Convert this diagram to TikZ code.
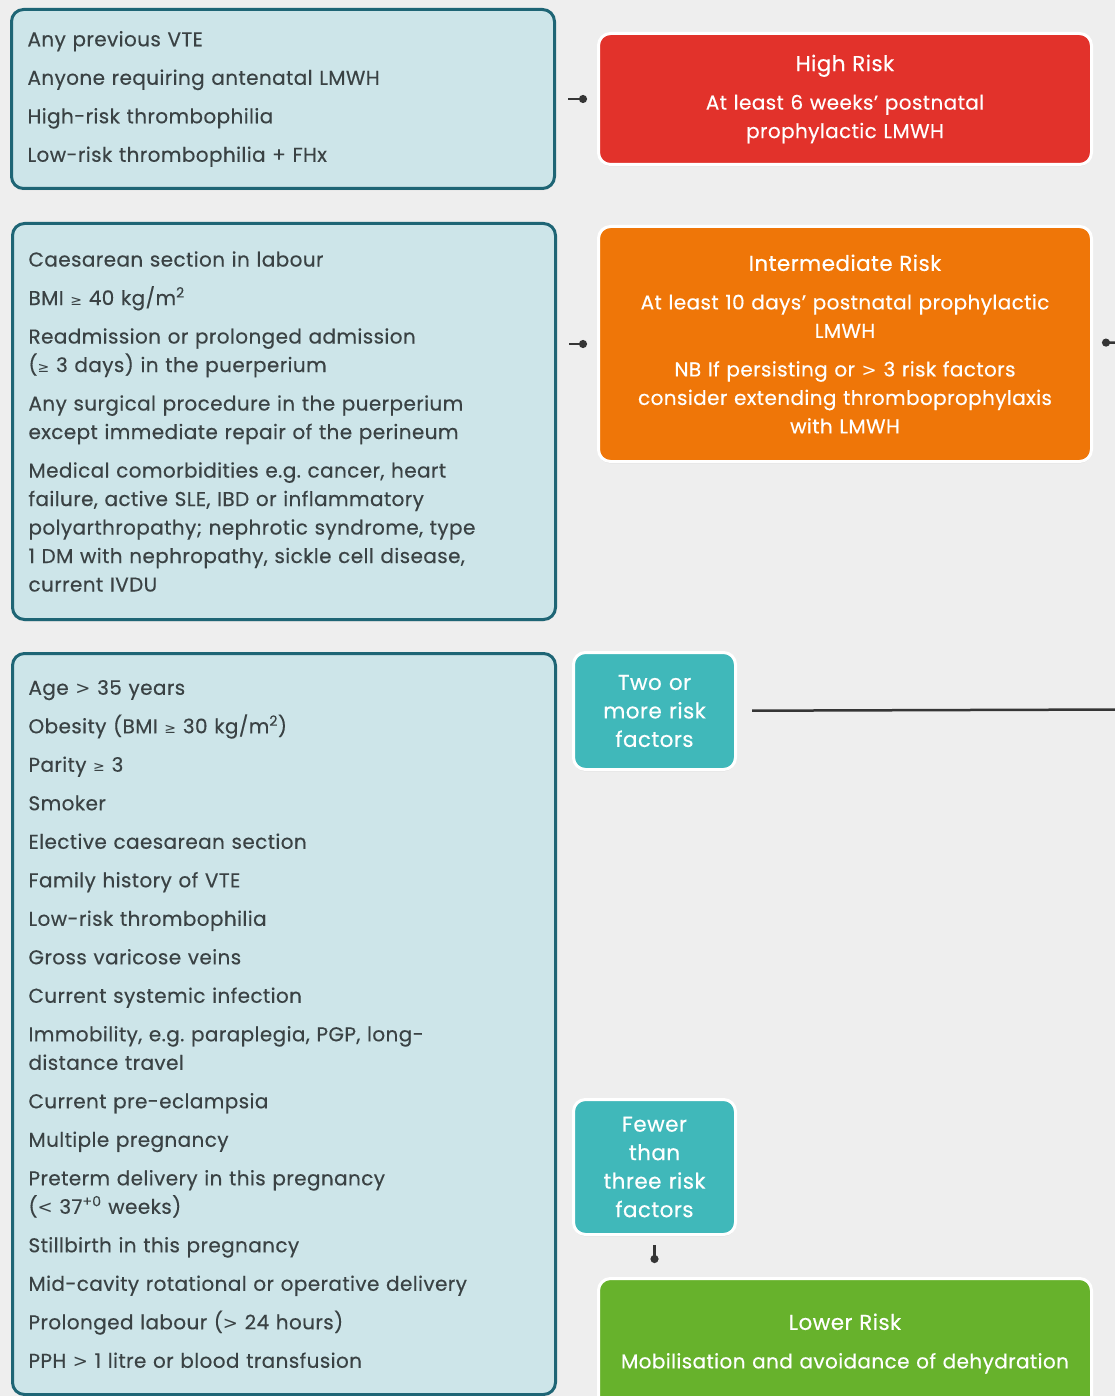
\documentclass[tikz,border=0pt]{standalone}
\usepackage{fontspec}
\setmainfont{Poppins}[FakeBold=0.35, LetterSpace=2]
\newfontfamily\symfont{DejaVu Sans}
\usetikzlibrary{arrows.meta, shadows}
\frenchspacing
\definecolor{pagegray}{HTML}{EEEEEE}
\definecolor{factorfill}{HTML}{CDE5E9}
\definecolor{factorline}{HTML}{1E6575}
\definecolor{inktext}{HTML}{3A4244}
\definecolor{highred}{HTML}{E2322B}
\definecolor{interorange}{HTML}{EF7608}
\definecolor{countteal}{HTML}{40B8BA}
\definecolor{lowgreen}{HTML}{67B22C}
\definecolor{linkgray}{HTML}{353535}
\newcommand{\geqsym}{{\symfont\fontsize{14}{14}\selectfont ≥}}
\newcommand{\gtsym}{{\symfont\fontsize{18}{18}\selectfont >}}
\newcommand{\ltsym}{{\symfont\fontsize{18}{18}\selectfont <}}
\newcommand{\risktitle}[1]{{\fontsize{21.5}{28.5}\selectfont #1}}
\tikzset{
  factors/.style={
    draw=factorline,
    line width=3pt,
    fill=factorfill,
    rounded corners=12pt,
    anchor=north west,
    inner xsep=16pt,
    inner ysep=0pt,
    text width=511pt,
    align=left,
    text=inktext,
    font=\fontsize{20}{28.5}\selectfont,
    drop shadow={shadow xshift=0pt, shadow yshift=-2pt, opacity=0.12}
  },
  risk/.style={
    draw=white,
    line width=3pt,
    rounded corners=12pt,
    anchor=north west,
    inner xsep=12pt,
    inner ysep=0pt,
    text width=469pt,
    align=center,
    text=white,
    font=\fontsize{20}{28.5}\selectfont,
    drop shadow={shadow xshift=0pt, shadow yshift=-2pt, opacity=0.12}
  },
  count/.style={
    draw=white,
    line width=3pt,
    fill=countteal,
    rounded corners=12pt,
    anchor=north west,
    inner xsep=6pt,
    inner ysep=0pt,
    text width=150pt,
    align=center,
    text=white,
    font=\fontsize{21.5}{28.5}\selectfont,
    drop shadow={shadow xshift=0pt, shadow yshift=-2pt, opacity=0.12}
  },
  every edge/.style={
    draw=linkgray,
    line width=2.5pt,
    -{Circle[length=8pt, width=8pt]}
  }
}

\begin{document}
\begin{tikzpicture}[x=1pt, y=-1pt]
  \clip (0,0) rectangle (1115,1396);
  \fill[pagegray] (0,0) rectangle (1115,1396);

  % risk factors
  \node[factors, minimum height=179pt] (prev) at (10,8)
    {Any previous VTE\\[10pt]
     Anyone requiring antenatal LMWH\\[10pt]
     High-risk thrombophilia\\[10pt]
     Low-risk thrombophilia + FHx};
  \node[factors, minimum height=396pt] (labour) at (11,222)
    {Caesarean section in labour\\[10pt]
     BMI \geqsym{} 40 kg/m\textsuperscript{2}\\[10pt]
     Readmission or prolonged admission\\
     (\geqsym{} 3 days) in the puerperium\\[10pt]
     Any surgical procedure in the puerperium\\
     except immediate repair of the perineum\\[10pt]
     Medical comorbidities e.g. cancer, heart\\
     failure, active SLE, IBD or inflammatory\\
     polyarthropathy; nephrotic syndrome, type\\
     1 DM with nephropathy, sickle cell disease,\\
     current IVDU};
  \node[factors, minimum height=741pt] (minor) at (11,652)
    {Age \gtsym{} 35 years\\[10pt]
     Obesity (BMI \geqsym{} 30 kg/m\textsuperscript{2})\\[10pt]
     Parity \geqsym{} 3\\[10pt]
     Smoker\\[10pt]
     Elective caesarean section\\[10pt]
     Family history of VTE\\[10pt]
     Low-risk thrombophilia\\[10pt]
     Gross varicose veins\\[10pt]
     Current systemic infection\\[10pt]
     Immobility, e.g. paraplegia, PGP, long-\\
     distance travel\\[10pt]
     Current pre-eclampsia\\[10pt]
     Multiple pregnancy\\[10pt]
     Preterm delivery in this pregnancy\\
     (\ltsym{} 37\textsuperscript{+0} weeks)\\[10pt]
     Stillbirth in this pregnancy\\[10pt]
     Mid-cavity rotational or operative delivery\\[10pt]
     Prolonged labour (\gtsym{} 24 hours)\\[10pt]
     PPH \gtsym{} 1 litre or blood transfusion};

  % outcomes
  \node[risk, fill=highred, minimum height=131pt] (high) at (597,32)
    {\risktitle{High Risk}\\[10pt]
     At least 6 weeks’ postnatal\\
     prophylactic LMWH};
  \node[risk, fill=interorange, minimum height=235pt] (inter) at (597,225)
    {\risktitle{Intermediate Risk}\\[10pt]
     At least 10 days’ postnatal prophylactic\\
     LMWH\\[10pt]
     NB If persisting or \gtsym{} 3 risk factors\\
     consider extending thromboprophylaxis\\
     with LMWH};
  \node[count, minimum height=117pt] (twoplus) at (572,651)
    {Two or\\ more risk\\ factors};
  \node[count, minimum height=135pt] (fewer) at (572,1098)
    {Fewer\\ than\\ three risk\\ factors};
  \node[risk, fill=lowgreen, minimum height=130pt] (low) at (597,1277)
    {\risktitle{Lower Risk}\\[10pt]
     Mobilisation and avoidance of dehydration};

  \coordinate (interout) at (1125,342.5);
  \coordinate (twoout) at (1125,709.5);

  \path (prev) edge[shorten <=12pt, shorten >=10pt] (high)
        (labour.east |- inter) edge[shorten <=12pt, shorten >=10pt] (inter)
        (inter) edge[{Circle[length=8pt, width=8pt]}-, shorten <=9pt] (interout)
        (twoplus) edge[-, shorten <=15pt] (twoout)
        (fewer) edge[shorten <=9pt, shorten >=14pt] (fewer |- low.north);
\end{tikzpicture}
\end{document}
